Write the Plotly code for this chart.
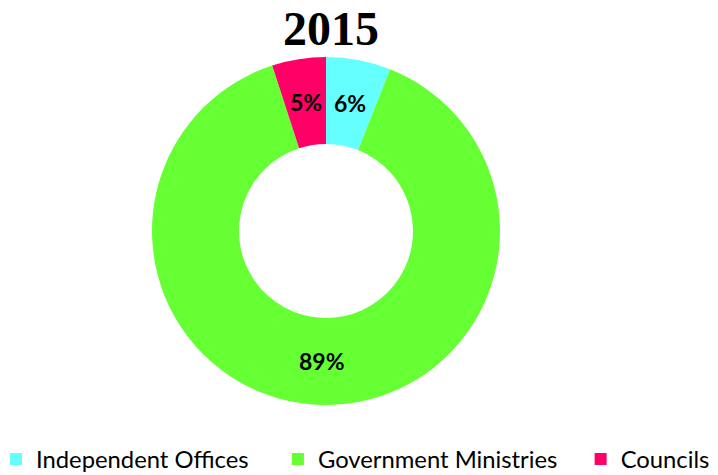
import math
import plotly.graph_objects as go

categories = ["Independent Offices", "Government Ministries", "Councils"]
values = [6, 89, 5]
colors = ["#66FFFF", "#66FF33", "#FF0066"]
title_text = "2015"

W, H = 718, 475
# pie domain in pixels (left, right, bottom, top measured from the bottom)
dom_x = (152, 500)
dom_y = (70, 418)
hole = 0.5

# trailing no-break spaces widen legend entries to match the reference spacing
legend_pad = [4, 3, 0]
labels = [c + "\u00a0" * p for c, p in zip(categories, legend_pad)]

fig = go.Figure(go.Pie(
    labels=labels,
    values=values,
    marker=dict(colors=colors, line=dict(width=0)),
    hole=hole,
    sort=False,
    direction="clockwise",
    rotation=0,
    textinfo="none",
    domain=dict(x=[dom_x[0]/W, dom_x[1]/W], y=[dom_y[0]/H, dom_y[1]/H]),
    hoverinfo="label+percent",
))

# percentage labels at the middle of the ring, at each slice's mid-angle
cx = (dom_x[0] + dom_x[1]) / 2
cy = (dom_y[0] + dom_y[1]) / 2
R = min(dom_x[1] - dom_x[0], dom_y[1] - dom_y[0]) / 2
r_mid = R * (1 + hole) / 2
total = sum(values)
cum = 0
for v in values:
    mid = (cum + v / 2) / total * 2 * math.pi
    cum += v
    px = cx + r_mid * math.sin(mid)
    py = cy + r_mid * math.cos(mid)
    fig.add_annotation(
        x=px / W, y=py / H, xref="paper", yref="paper",
        text="<b>%d%%</b>" % round(v / total * 100),
        showarrow=False, xanchor="center", yanchor="middle",
        font=dict(family="Lato", size=23, color="black"),
    )

fig.update_layout(
    width=W, height=H,
    margin=dict(l=0, r=0, t=0, b=0, autoexpand=False),
    paper_bgcolor="white",
    plot_bgcolor="white",
    title=dict(text="<b>" + title_text + "</b>", x=331/W, xanchor="center", y=1-28/H, yanchor="middle",
               font=dict(family="Liberation Serif", size=48, color="black")),
    showlegend=True,
    legend=dict(orientation="h", x=-4/W, xanchor="left", y=-6/H, yanchor="bottom",
                font=dict(family="Lato", size=23.8, color="black"),
                traceorder="normal", bgcolor="rgba(0,0,0,0)"),
)

fig.write_html("out.html", config={"displayModeBar": False},
               post_script="document.body.style.margin='0';")
